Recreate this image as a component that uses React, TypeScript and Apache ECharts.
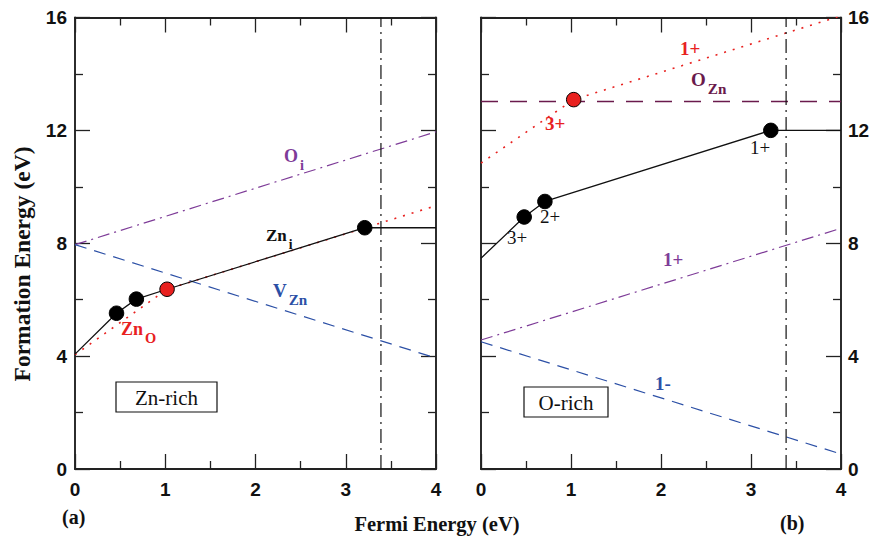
import React, { useEffect, useRef } from "react";
import * as echarts from "echarts";

// ---- data (Fermi energy in eV, formation energy in eV) ----
const xTicks = [0, 1, 2, 3, 4];
const yTicks = [0, 4, 8, 12, 16];
const bandGap = 3.39;

// Panel (a) Zn-rich
const aZnI: [number, number][] = [[0, 4.07], [0.46, 5.52], [0.68, 6.02], [1.02, 6.37], [3.21, 8.55], [4, 8.55]];
const aZnO: [number, number][] = [[0, 4.05], [1.02, 6.37], [4, 9.33]];
const aOi: [number, number][] = [[0, 7.95], [4, 11.95]];
const aVZn: [number, number][] = [[0, 7.95], [4, 3.93]];
const aBlackDots: [number, number][] = [[0.46, 5.52], [0.68, 6.02], [3.21, 8.55]];
const aRedDots: [number, number][] = [[1.02, 6.37]];

// Panel (b) O-rich
const bZnI: [number, number][] = [[0, 7.47], [0.48, 8.93], [0.71, 9.48], [3.22, 12.0], [4, 12.0]];
const bZnO: [number, number][] = [[0, 10.84], [1.03, 13.09], [4, 16.06]];
const bOZn: [number, number][] = [[0, 13.02], [4, 13.02]];
const bOi: [number, number][] = [[0, 4.57], [4, 8.53]];
const bVZn: [number, number][] = [[0, 4.51], [4, 0.53]];
const bBlackDots: [number, number][] = [[0.48, 8.93], [0.71, 9.48], [3.22, 12.0]];
const bRedDots: [number, number][] = [[1.03, 13.09]];

const RED = "#e8211f";
const PURPLE = "#7e3c98";
const BLUE = "#2c50a6";
const DARKPURPLE = "#6a1a4c";
const SERIF = "Liberation Serif, Times New Roman, serif";
const SANS = "Liberation Sans, Arial, sans-serif";

function axisBase(showLabel: boolean, isX: boolean, position: string, margin: number) {
  return {
    type: "value",
    min: 0,
    max: isX ? xTicks[xTicks.length - 1] : yTicks[yTicks.length - 1],
    interval: isX ? xTicks[1] - xTicks[0] : yTicks[1] - yTicks[0],
    position,
    axisLine: { show: true, onZero: false, lineStyle: { color: "#222", width: 1.9 } },
    axisTick: { show: true, inside: true, length: 15, lineStyle: { color: "#222", width: 1.3 } },
    minorTick: { show: true, splitNumber: 2, length: 8, lineStyle: { color: "#222", width: 1.3 } },
    splitLine: { show: false },
    minorSplitLine: { show: false },
    axisLabel: {
      show: showLabel,
      margin,
      color: "#111",
      fontFamily: SANS,
      fontWeight: "bold",
      fontSize: 19,
      formatter: (v: number) => String(v),
    },
  };
}

function line(data: [number, number][], gi: number, color: string, type: any, width = 1.2, z = 2) {
  return {
    type: "line",
    xAxisIndex: gi * 2,
    yAxisIndex: gi * 2,
    data,
    symbol: "none",
    silent: true,
    z,
    lineStyle: { color, width, type },
  };
}

function dots(data: [number, number][], gi: number, color: string) {
  return {
    type: "scatter",
    xAxisIndex: gi * 2,
    yAxisIndex: gi * 2,
    data,
    symbolSize: 14.5,
    z: 5,
    silent: true,
    itemStyle: { color, opacity: 1, borderColor: "#000", borderWidth: 1 },
  };
}

function label(x: number, y: number, main: string, sub: string, color: string, size = 17, bold = true) {
  return {
    type: "text",
    x,
    y,
    style: {
      text: sub ? `{m|${main}}{s|${sub}}` : `{m|${main}}`,
      rich: {
        m: { fontFamily: SERIF, fontWeight: bold ? "bold" : "normal", fontSize: size, fill: color, verticalAlign: "bottom" },
        s: { fontFamily: SERIF, fontWeight: "bold", fontSize: size * 0.8, fill: color, padding: [0, 0, -7, 2], verticalAlign: "bottom" },
      },
      verticalAlign: "top",
    },
  };
}

export default function App() {
  const ref = useRef<HTMLDivElement>(null);
  useEffect(() => {
    if (!ref.current) return;
    const chart = echarts.init(ref.current, null, { renderer: "svg" });
    const option: any = {
      animation: false,
      backgroundColor: "#ffffff",
      grid: [
        { left: 75, right: 874 - 436, top: 17.5, bottom: 537 - 469 },
        { left: 481, right: 874 - 841, top: 17.5, bottom: 537 - 469 },
      ],
      xAxis: [
        { ...axisBase(true, true, "bottom", 11), gridIndex: 0 },
        { ...axisBase(false, true, "top", 8), gridIndex: 0 },
        { ...axisBase(true, true, "bottom", 11), gridIndex: 1 },
        { ...axisBase(false, true, "top", 8), gridIndex: 1 },
      ],
      yAxis: [
        { ...axisBase(true, false, "left", 8), gridIndex: 0 },
        { ...axisBase(false, false, "right", 8), gridIndex: 0 },
        { ...axisBase(false, false, "left", 8), gridIndex: 1 },
        { ...axisBase(true, false, "right", 7), gridIndex: 1 },
      ],
      series: [
        line(aOi, 0, PURPLE, [12, 5, 2, 5]),
        line(aVZn, 0, BLUE, [12, 8]),
        line(aZnO, 0, RED, [2, 7], 1.6),
        line(aZnI, 0, "#111", "solid", 1.3, 3),
        line([[bandGap, 0], [bandGap, 16]], 0, "#111", [14, 5, 2, 5], 1.2),
        dots(aBlackDots, 0, "#000"),
        dots(aRedDots, 0, RED),
        line(bOi, 1, PURPLE, [12, 5, 2, 5]),
        line(bVZn, 1, BLUE, [12, 8]),
        line(bOZn, 1, DARKPURPLE, [17, 12], 1.5),
        line(bZnO, 1, RED, [2, 7], 1.6),
        line(bZnI, 1, "#111", "solid", 1.3, 3),
        line([[bandGap, 0], [bandGap, 16]], 1, "#111", [14, 5, 2, 5], 1.2),
        dots(bBlackDots, 1, "#000"),
        dots(bRedDots, 1, RED),
      ],
      graphic: [
        // axis titles
        {
          type: "text",
          x: 437,
          y: 524,
          style: { text: "Fermi Energy (eV)", fontFamily: SERIF, fontWeight: "bold", fontSize: 20.5, fill: "#111", align: "center", verticalAlign: "middle" },
        },
        {
          type: "text",
          x: 22,
          y: 264,
          rotation: Math.PI / 2,
          style: { text: "Formation Energy (eV)", fontFamily: SERIF, fontWeight: "bold", fontSize: 23.5, fill: "#111", align: "center", verticalAlign: "middle" },
        },
        { type: "text", x: 62, y: 507, style: { text: "(a)", fontFamily: SERIF, fontWeight: "bold", fontSize: 20, fill: "#111" } },
        { type: "text", x: 780, y: 513, style: { text: "(b)", fontFamily: SERIF, fontWeight: "bold", fontSize: 20, fill: "#111" } },
        // boxes
        { type: "rect", shape: { x: 116, y: 382, width: 101, height: 30 }, style: { fill: "#fff", stroke: "#111", lineWidth: 1.2 } },
        { type: "text", x: 166.5, y: 397.5, style: { text: "Zn-rich", fontFamily: SERIF, fontSize: 21, fill: "#111", align: "center", verticalAlign: "middle" } },
        { type: "rect", shape: { x: 524, y: 387, width: 84, height: 30 }, style: { fill: "#fff", stroke: "#111", lineWidth: 1.2 } },
        { type: "text", x: 566, y: 402.5, style: { text: "O-rich", fontFamily: SERIF, fontSize: 21, fill: "#111", align: "center", verticalAlign: "middle" } },
        // panel (a) labels
        label(284, 147, "O", "i", PURPLE, 18),
        label(273, 281, "V", "Zn", BLUE, 19),
        label(266, 227, "Zn", "i", "#111", 17),
        label(121, 320, "Zn", "O", RED, 18),
        // panel (b) labels
        label(691, 70, "O", "Zn", DARKPURPLE, 19),
        label(680, 39, "1+", "", RED, 19),
        label(545, 114, "3+", "", RED, 19),
        label(750, 138, "1+", "", "#111", 19, false),
        label(540, 207, "2+", "", "#111", 19, false),
        label(507, 228, "3+", "", "#111", 19, false),
        label(663, 250, "1+", "", PURPLE, 19),
        label(655, 374, "1-", "", BLUE, 19),
      ],
    };
    chart.setOption(option);
    return () => chart.dispose();
  }, []);
  return <div ref={ref} style={{ position: "absolute", left: 0, top: 0, width: 874, height: 537 }} />;
}
